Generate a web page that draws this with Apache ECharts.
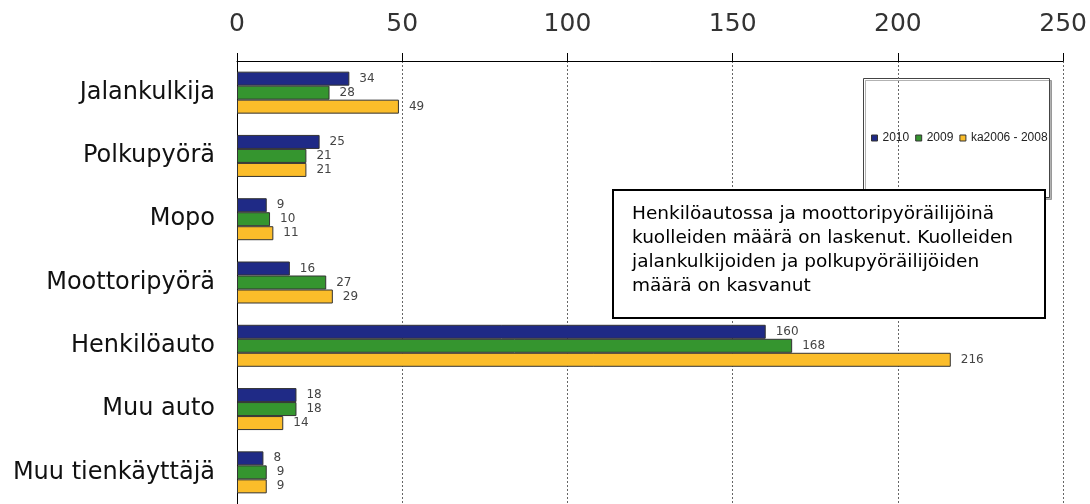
<!DOCTYPE html>
<html><head><meta charset="utf-8">
<script src="https://cdn.jsdelivr.net/npm/echarts@6/dist/echarts.min.js"></script>
<style>html,body{margin:0;padding:0;background:#fff}#c{width:1090px;height:504px}</style>
</head><body><div id="c"></div>
<script>
const categories = ['Jalankulkija','Polkupyörä','Mopo','Moottoripyörä','Henkilöauto','Muu auto','Muu tienkäyttäjä'];
const seriesNames = ['2010','2009','ka2006 - 2008'];
const v2010 = [34,25,9,16,160,18,8];
const v2009 = [28,21,10,27,168,18,9];
const vAvg = [49,21,11,29,216,14,9];
const xTicks = [0,50,100,150,200,250];
const note = 'Henkilöautossa ja moottoripyöräilijöinä\nkuolleiden määrä on laskenut. Kuolleiden\njalankulkijoiden ja polkupyöräilijöiden\nmäärä on kasvanut';
const colors = ['#1f2a86','#35952f','#fbbd2a'];

const chart = echarts.init(document.getElementById('c'));
const mk = (name, data, color) => ({
  name, type:'bar', data, barWidth:14, barGap:'0%',
  itemStyle:{color, borderColor:'#333', borderWidth:1},
  label:{show:true, position:'right', distance:10, fontFamily:'DejaVu Sans', fontSize:12, color:'#444'},
  emphasis:{disabled:true}
});
chart.setOption({
  animation:false,
  textStyle:{fontFamily:'DejaVu Sans'},
  grid:{left:237, right:26, top:61, height:448, containLabel:false},
  xAxis:{type:'value', position:'top', min:xTicks[0], max:xTicks[xTicks.length-1], interval:50,
    axisLine:{show:true, lineStyle:{color:'#000', width:1}},
    axisTick:{show:true, length:8, lineStyle:{color:'#000'}},
    axisLabel:{fontFamily:'DejaVu Sans', fontSize:25, color:'#333', margin:24},
    splitLine:{show:true, lineStyle:{color:'#666', type:[2,2], width:1}}},
  yAxis:{type:'category', data:categories, inverse:true,
    axisLine:{show:true, lineStyle:{color:'#000', width:1}},
    axisTick:{show:false},
    axisLabel:{fontFamily:'DejaVu Sans', fontSize:24, color:'#111', margin:22}},
  legend:{left:871, top:132, padding:0, itemWidth:6, itemHeight:6, itemGap:6,
    textStyle:{fontFamily:'Liberation Sans', fontSize:12, color:'#222'},
    icon:'rect', itemStyle:{borderColor:'#333', borderWidth:1}},
  graphic:[
    {type:'rect', left:863, top:78, z:0, shape:{width:186, height:119},
      style:{fill:'#fff', stroke:'#444', lineWidth:1, shadowColor:'rgba(0,0,0,0.3)', shadowOffsetX:2, shadowOffsetY:2, shadowBlur:0}},
    {type:'rect', left:612, top:189, z:10, shape:{width:432, height:128},
      style:{fill:'#fff', stroke:'#000', lineWidth:2}},
    {type:'text', left:632, top:202, z:11,
      style:{text:note, font:'18.5px "DejaVu Sans"', lineHeight:24, fill:'#000'}}
  ],
  series:[mk(seriesNames[0], v2010, colors[0]), mk(seriesNames[1], v2009, colors[1]), mk(seriesNames[2], vAvg, colors[2])]
});
</script></body></html>
